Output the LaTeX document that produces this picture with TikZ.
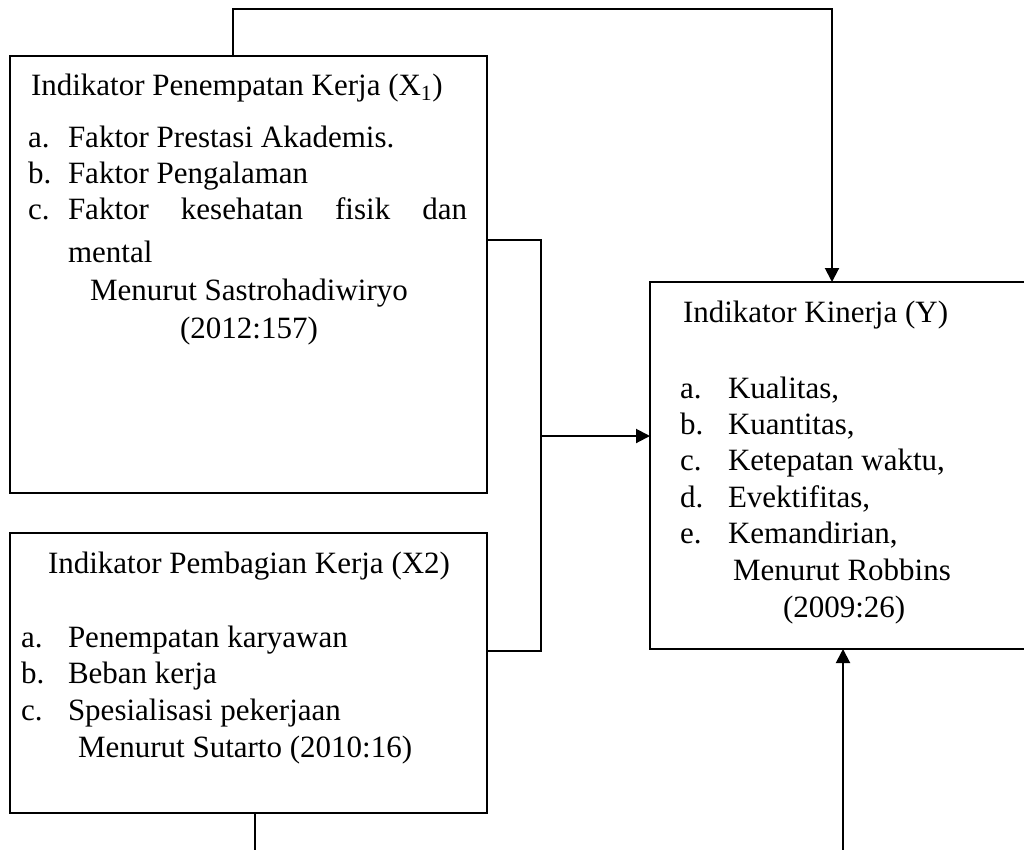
\documentclass[tikz,border=0pt]{standalone}
\usepackage{fontspec}
\setmainfont{Liberation Serif}
\usetikzlibrary{arrows.meta}
\begin{document}
\begin{tikzpicture}[x=1pt,y=-1pt,
  box/.style={draw=black,line width=2pt,minimum width=#1,inner sep=0pt,outer sep=0pt},
  txt/.style={anchor=base west,inner sep=0pt,outer sep=0pt,font=\fontsize{31}{36.7}\selectfont},
  ctxt/.style={anchor=base,inner sep=0pt,outer sep=0pt,font=\fontsize{31}{36.7}\selectfont},
  conn/.style={draw=black,line width=2pt},
  arr/.style={conn,-{Triangle[length=14pt,width=14pt]}}]
\fill[white] (0,0) rectangle (1024,849);
\useasboundingbox (0,0) rectangle (1024,849);
% boxes
\node[box=477pt,minimum height=437pt] (b1) at (248.5,274.5) {};
\node[box=477pt,minimum height=280pt] (b2) at (248.5,673) {};
\node[box=380pt,minimum height=367pt] (b3) at (840,465.5) {};
% box 1 text
\node[txt] (t1h) at (31,95) {Indikator Penempatan Kerja (X\textsubscript{1})};
\node[txt] (t1al) at (28,147) {a.};
\node[txt] (t1a) at (68,147) {Faktor Prestasi Akademis.};
\node[txt] (t1bl) at (28,183) {b.};
\node[txt] (t1b) at (68,183) {Faktor Pengalaman};
\node[txt] (t1cl) at (28,219) {c.};
\node[txt] (t1c) at (68,219) {\makebox[399pt][s]{Faktor kesehatan fisik dan}};
\node[txt] (t1c2) at (68,262) {mental};
\node[ctxt] (t1m) at (249,300) {Menurut Sastrohadiwiryo};
\node[ctxt] (t1y) at (249,338) {(2012:157)};
% box 2 text
\node[ctxt] (t2h) at (249,573) {Indikator Pembagian Kerja (X2)};
\node[txt] (t2al) at (21,647) {a.};
\node[txt] (t2a) at (68,647) {Penempatan karyawan};
\node[txt] (t2bl) at (21,683) {b.};
\node[txt] (t2b) at (68,683) {Beban kerja};
\node[txt] (t2cl) at (21,720) {c.};
\node[txt] (t2c) at (68,720) {Spesialisasi pekerjaan};
\node[txt] (t2m) at (78,757) {Menurut Sutarto (2010:16)};
% box 3 text
\node[txt] (t3h) at (683,322) {Indikator Kinerja (Y)};
\node[txt] (t3al) at (680,398) {a.};
\node[txt] (t3a) at (728,398) {Kualitas,};
\node[txt] (t3bl) at (680,434) {b.};
\node[txt] (t3b) at (728,434) {Kuantitas,};
\node[txt] (t3cl) at (680,470) {c.};
\node[txt] (t3c) at (728,470) {Ketepatan waktu,};
\node[txt] (t3dl) at (680,507) {d.};
\node[txt] (t3d) at (728,507) {Evektifitas,};
\node[txt] (t3el) at (680,543) {e.};
\node[txt] (t3e) at (728,543) {Kemandirian,};
\node[txt] (t3m) at (733,580) {Menurut Robbins};
\node[txt] (t3y) at (783,617) {(2009:26)};
% connectors
\coordinate (u1) at (233,9);
\coordinate (u2) at (832,9);
\draw[arr] (b1.north -| u1) -- (u1) -- (u2) -- (u2 |- b3.north);
\coordinate (k1) at (541,240);
\coordinate (k2) at (541,651);
\draw[conn] (k1 -| b1.east) -- (k1) -- (k2) -- (k2 -| b2.east);
\coordinate (k3) at (541,436);
\draw[arr] (k3) -- (k3 -| b3.west);
\coordinate (d1) at (255,860);
\draw[conn] (b2.south -| d1) -- (d1);
\coordinate (d2) at (843,860);
\draw[arr] (d2) -- (d2 |- b3.south);
\end{tikzpicture}
\end{document}
